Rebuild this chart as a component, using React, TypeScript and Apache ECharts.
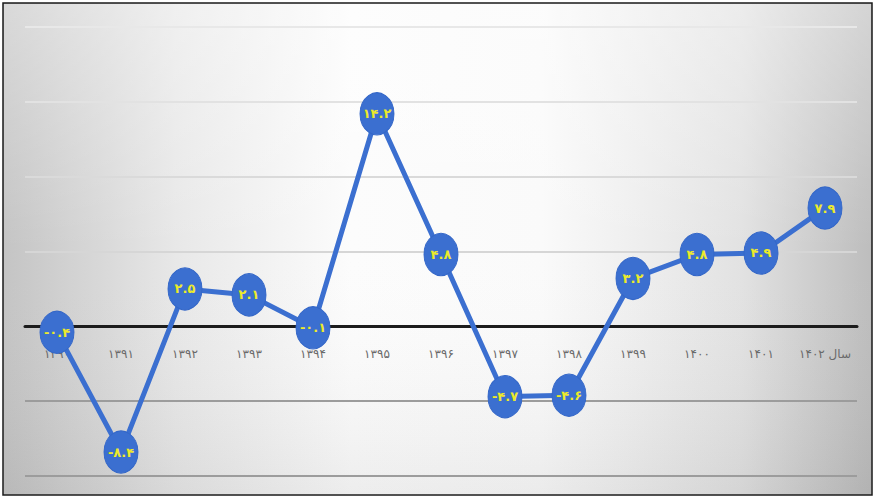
import React, { useEffect, useRef } from "react";
import * as echarts from "echarts";

const years = ["1390", "1391", "1392", "1393", "1394", "1395", "1396", "1397", "1398", "1399", "1400", "1401", "1402"];
const growth = [-0.4, -8.4, 2.5, 2.1, -0.1, 14.2, 4.8, -4.7, -4.6, 3.2, 4.8, 4.9, 7.9];
const yearWord = "سال";
const yMin = -10;
const yMax = 20;
const yStep = 5;

const faDigits = "۰۱۲۳۴۵۶۷۸۹";
const toFa = (s: string) => s.replace(/[0-9]/g, (d) => faDigits[Number(d)]);

const W = 875;
const H = 498;
const GRID = { left: 25, right: 18, top: 27, bottom: 22 };

export default function App() {
  const ref = useRef<HTMLDivElement>(null);
  useEffect(() => {
    if (!ref.current) return;
    const chart = echarts.init(ref.current, undefined, { renderer: "svg" });
    const lastIdx = years.length - 1;
    const plotH = H - GRID.top - GRID.bottom;
    const zeroOffset = -(plotH * (0 - yMin)) / (yMax - yMin);
    chart.setOption({
      animation: false,
      graphic: [
        {
          type: "rect",
          z: -10,
          silent: true,
          shape: { x: 3, y: 3, width: 869, height: 492 },
          style: {
            fill: new echarts.graphic.LinearGradient(0, 0, 1, 0, [
              { offset: 0, color: "#c4c4c4" },
              { offset: 0.2, color: "#e8e8e8" },
              { offset: 0.4, color: "#fcfcfc" },
              { offset: 0.62, color: "#fafafa" },
              { offset: 0.85, color: "#e2e2e2" },
              { offset: 1, color: "#bdbdbd" },
            ]),
            stroke: "#1a1a1a",
            lineWidth: 1.5,
          },
        },
        {
          type: "rect",
          z: -9,
          silent: true,
          shape: { x: 4, y: 4, width: 867, height: 490 },
          style: {
            fill: new echarts.graphic.LinearGradient(0, 0, 0, 1, [
              { offset: 0, color: "rgba(255,255,255,0.35)" },
              { offset: 0.5, color: "rgba(255,255,255,0)" },
              { offset: 1, color: "rgba(0,0,0,0.06)" },
            ]),
          },
        },
      ],
      grid: { ...GRID, containLabel: false, outerBoundsMode: "none" },
      xAxis: {
        type: "category",
        data: years,
        boundaryGap: true,
        offset: zeroOffset,
        axisLine: { onZero: false, lineStyle: { color: "#1c1c1c", width: 3 } },
        axisTick: { show: false },
        splitLine: { show: false },
        axisLabel: {
          margin: 22,
          color: "#6a6a6a",
          fontSize: 12,
          fontFamily: "DejaVu Sans",
          interval: 0,
          formatter: (v: string, i: number) =>
            i === lastIdx ? `{d|${toFa(v)}} {s|${yearWord}}` : toFa(v),
          rich: {
            d: { color: "#6a6a6a", fontSize: 12, fontFamily: "DejaVu Sans" },
            s: { color: "#6a6a6a", fontSize: 12, fontFamily: "DejaVu Sans" },
          },
        },
        z: 3,
      },
      yAxis: {
        type: "value",
        min: yMin,
        max: yMax,
        interval: yStep,
        axisLabel: { show: false },
        axisLine: { show: false },
        axisTick: { show: false },
        splitLine: {
          lineStyle: {
            width: 2,
            color: ["#9c9c9c", "#9c9c9c", "#1c1c1c", "#d6d6d6", "#dadada", "#e2e2e2", "#e8e8e8"],
          },
        },
      },
      series: [
        {
          type: "line",
          data: growth,
          z: 5,
          symbol: "circle",
          symbolSize: [34, 42],
          lineStyle: { color: "#3b6fd0", width: 5 },
          itemStyle: { color: "#3b6fd0", borderColor: "#3467c8", borderWidth: 1 },
          label: {
            show: true,
            position: "inside",
            color: "#ecea2a",
            fontWeight: "bold",
            fontSize: 13,
            fontFamily: "DejaVu Sans",
            formatter: (p: any) => toFa(String(p.value)),
          },
        },
      ],
    });
    return () => chart.dispose();
  }, []);
  return (
    <div
      ref={ref}
      style={{ position: "fixed", left: 0, top: 0, width: W, height: H, background: "#fff" }}
    />
  );
}
